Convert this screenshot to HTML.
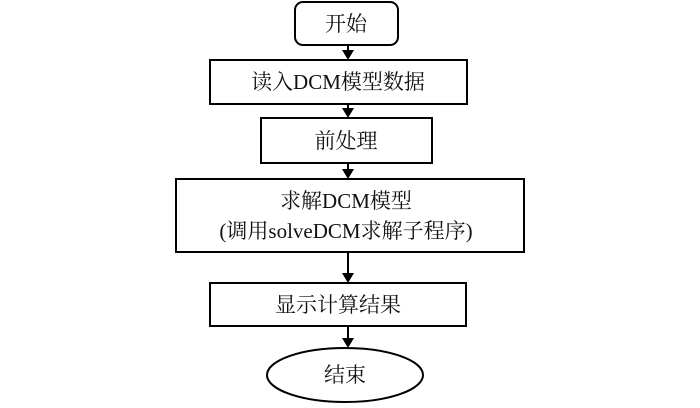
<!DOCTYPE html>
<html><head><meta charset="utf-8"><style>
body{margin:0;background:#fff;}
svg text{font-family:"Liberation Serif","Noto Serif CJK SC",serif;font-size:21px;fill:#111;text-anchor:middle;}
</style></head><body>
<svg width="700" height="403" viewBox="0 0 700 403">
<g fill="none" stroke="#000" stroke-width="2">
<rect x="295" y="2" width="103" height="43" rx="8"/>
<rect x="210" y="60" width="257" height="44"/>
<rect x="261" y="118" width="171" height="45"/>
<rect x="176" y="179" width="348" height="73"/>
<rect x="210" y="283" width="256" height="43"/>
<ellipse cx="345" cy="375" rx="78" ry="27"/>
<line x1="348" y1="45" x2="348" y2="52"/>
<line x1="348" y1="104" x2="348" y2="110"/>
<line x1="348" y1="163" x2="348" y2="171"/>
<line x1="348" y1="252" x2="348" y2="275"/>
<line x1="348" y1="326" x2="348" y2="340"/>
</g>
<g fill="#000">
<polygon points="342,50 354,50 348,60"/>
<polygon points="342,108 354,108 348,118"/>
<polygon points="342,169 354,169 348,179"/>
<polygon points="342,273 354,273 348,283"/>
<polygon points="342,338 354,338 348,348"/>
</g>
<text x="346" y="31">开始</text>
<text x="338" y="89">读入DCM模型数据</text>
<text x="346" y="148">前处理</text>
<text x="346" y="208">求解DCM模型</text>
<text x="346" y="238">(调用solveDCM求解子程序)</text>
<text x="338" y="312">显示计算结果</text>
<text x="345" y="382">结束</text>
</svg>
</body></html>
